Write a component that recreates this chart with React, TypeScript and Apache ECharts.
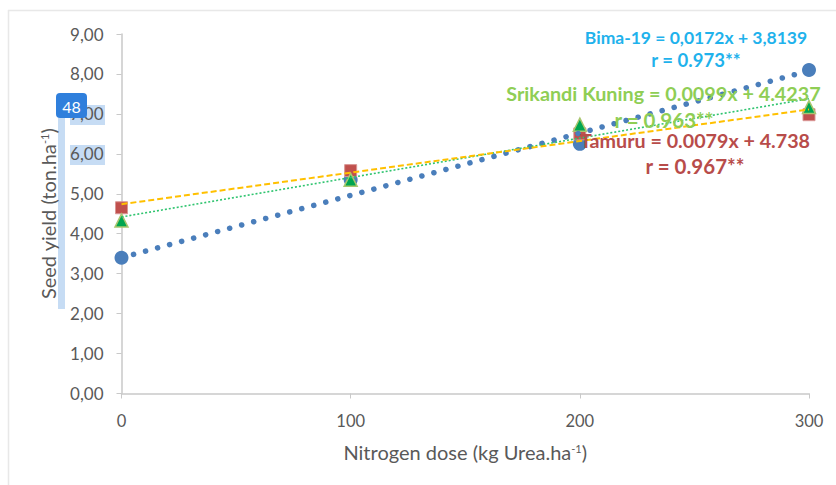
import React, { useEffect, useRef } from "react";
import * as echarts from "echarts";

const doses = [0, 100, 200, 300];
const bima = [3.4, 5.35, 6.25, 8.1];
const tamuru = [4.65, 5.58, 6.5, 6.98];
const srikandi = [4.33, 5.35, 6.73, 7.17];
const trendDoses = [0, 300];
const bimaTrend = [3.4, 8.08];
const tamuruTrend = [4.74, 7.11];
const srikandiTrend = [4.42, 7.38];
const font = "Lato";

const pairs = (xs: number[], ys: number[]) => xs.map((x, i) => [x, ys[i]]);

export default function App() {
  const ref = useRef<HTMLDivElement>(null);
  useEffect(() => {
    const chart = echarts.init(ref.current!, null, { renderer: "svg" });
    const eq = (text: string, cx: number, cy: number, fill: string, size: number) => ({
      type: "text", x: cx, y: cy, z: 20,
      style: { text, fill, font: `bold ${size}px ${font}`, textAlign: "center", textVerticalAlign: "middle" },
    });
    const band = (x: number, y: number, width: number, height: number) => ({
      type: "rect", z: -1, shape: { x, y, width, height }, style: { fill: "#c6dcf4" },
    });
    const edge = (x1: number, y1: number, x2: number, y2: number) => ({
      type: "line", z: -2, shape: { x1, y1, x2, y2 }, style: { stroke: "#e8e8e8", lineWidth: 1.5 },
    });
    const marker = (name: string, data: number[], symbol: string, size: number, color: string, border: string, bw: number) => ({
      name, type: "scatter", data: pairs(doses, data), symbol, symbolSize: size, z: 3,
      itemStyle: { color, borderColor: border, borderWidth: bw, opacity: 1 },
    });
    const trend = (name: string, data: number[], color: string, width: number, dash: any, cap: any, z: number) => ({
      name, type: "line", data: pairs(trendDoses, data), showSymbol: false, silent: true, z,
      lineStyle: { color, width, type: dash, cap },
    });
    chart.setOption({
      animation: false,
      backgroundColor: "#ffffff",
      grid: { left: 121.5, top: 34, width: 687.5, height: 359.5, containLabel: false },
      xAxis: {
        type: "value", min: 0, max: 300, interval: 100,
        name: "Nitrogen dose (kg Urea.ha{s|-1})",
        nameLocation: "middle", nameGap: 48,
        nameTextStyle: { fontFamily: font, fontSize: 20, color: "#595959", rich: { s: { fontSize: 11, color: "#595959", fontFamily: font, padding: [0, 0, 7, 0] } } },
        axisLine: { lineStyle: { color: "#c9c9c9", width: 1.5 } },
        axisTick: { show: true, length: 5, lineStyle: { color: "#c9c9c9", width: 1 } },
        axisLabel: { fontFamily: font, fontSize: 16.5, color: "#595959", margin: 19 },
        splitLine: { show: false },
      },
      yAxis: {
        type: "value", min: 0, max: 9, interval: 1,
        name: "Seed yield (ton.ha{s|-1})",
        nameLocation: "middle", nameGap: 64, nameRotate: 90,
        nameTextStyle: { fontFamily: font, fontSize: 20, color: "#595959", rich: { s: { fontSize: 11, color: "#595959", fontFamily: font, padding: [0, 0, 7, 0] } } },
        axisLine: { show: true, lineStyle: { color: "#c9c9c9", width: 1.5 } },
        axisTick: { show: true, length: 5, lineStyle: { color: "#c9c9c9", width: 1 } },
        axisLabel: { fontFamily: font, fontSize: 17, color: "#595959", margin: 18, formatter: (v: number) => v.toFixed(2).replace(".", ",") },
        splitLine: { show: false },
      },
      series: [
        marker("Bima-19", bima, "circle", 14, "#4a7ebb", "#4a7ebb", 0),
        marker("Tamuru", tamuru, "rect", 12, "#c0504d", "#d99694", 1),
        marker("Srikandi Kuning", srikandi, "triangle", 13, "#00a650", "#a9c66f", 1.5),
        trend("Bima-19 trend", bimaTrend, "#4a7ebb", 5.5, [0.1, 12.35], "round", 4),
        trend("Srikandi trend", srikandiTrend, "#2fc46f", 1.6, [2, 2], "butt", 5),
        trend("Tamuru trend", tamuruTrend, "#ffc000", 2, [6, 3], "butt", 6),
      ],
      graphic: [
        edge(8, 10.5, 836, 10.5),
        edge(8.5, 10, 8.5, 485),
        band(70, 105, 35, 20),
        band(70, 145, 35, 20),
        band(58, 118, 7, 191),
        {
          type: "rect", z: 30, shape: { x: 56, y: 93, width: 31, height: 25, r: 4 }, style: { fill: "#2f7fdc" },
        },
        {
          type: "text", x: 71.5, y: 106, z: 31,
          style: { text: "48", fill: "#ffffff", font: `16px ${font}`, textAlign: "center", textVerticalAlign: "middle" },
        },
        eq("Bima-19 = 0,0172x + 3,8139", 696, 37, "#1fb2ec", 17.5),
        eq("r = 0.973**", 696, 60, "#1fb2ec", 18.5),
        eq("Srikandi Kuning = 0.0099x + 4.4237", 663.5, 93, "#8fce55", 19.8),
        eq("r = 0.963**", 664, 120, "#8fce55", 20.5),
        eq("Tamuru = 0.0079x + 4.738", 695, 140, "#b84c4a", 19.7),
        eq("r = 0.967**", 695, 166, "#b84c4a", 20.5),
      ],
    });
    return () => chart.dispose();
  }, []);
  return <div ref={ref} style={{ position: "absolute", left: 0, top: 0, width: 836, height: 485 }} />;
}
